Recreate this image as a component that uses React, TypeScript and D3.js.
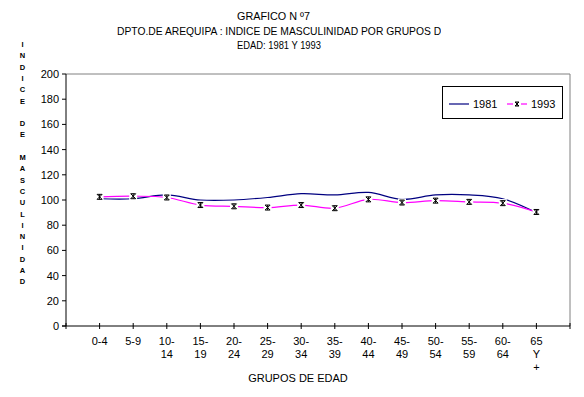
import React from 'react';
import * as d3 from 'd3';

const W = 584;
const H = 397;

// grupos de edad (etiquetas en varias líneas como en el original)
const ageGroups = ['0-4', '5-9', '10-14', '15-19', '20-24', '25-29', '30-34', '35-39', '40-44', '45-49', '50-54', '55-59', '60-64', '65 Y +'];
const ageLabelLines = [
  ['0-4'], ['5-9'], ['10-', '14'], ['15-', '19'], ['20-', '24'], ['25-', '29'], ['30-', '34'],
  ['35-', '39'], ['40-', '44'], ['45-', '49'], ['50-', '54'], ['55-', '59'], ['60-', '64'], ['65', 'Y', '+'],
];
const values1981 = [101, 101, 104, 100, 100, 102, 105, 104, 106, 100.5, 104, 104, 101, 90];
const values1993 = [102.5, 103, 102, 96, 95, 94, 96, 93.5, 100.5, 98, 99.5, 98.5, 97.5, 90.5];
const yTicks = [0, 20, 40, 60, 80, 100, 120, 140, 160, 180, 200];
const titleLines = ['GRAFICO N º7', 'DPTO.DE AREQUIPA : INDICE DE MASCULINIDAD POR GRUPOS DE', 'EDAD: 1981 Y 1993'];
const yTitle = 'INDICE DE MASCULINIDAD';

const plot = { l: 66, r: 570, t: 74, b: 326 };
const NAVY = '#000080';
const PINK = '#ff00ff';
const FONT = 'Arial, "Liberation Sans", sans-serif';

// marcador tipo estrella (x con barra vertical)
const starPath = (cx: number, cy: number, s = 2.5) =>
  `M${cx - s},${cy - s}L${cx + s},${cy + s}M${cx - s},${cy + s}L${cx + s},${cy - s}M${cx},${cy - s}L${cx},${cy + s}M${cx - s},${cy - s}L${cx + s},${cy - s}M${cx - s},${cy + s}L${cx + s},${cy + s}`;

const App = () => {
  const x = d3.scalePoint<string>().domain(ageGroups).range([plot.l, plot.r]).padding(1);
  const y = d3.scaleLinear().domain([0, 200]).range([plot.b, plot.t]);

  const line = d3
    .line<number>()
    .x((_, i) => x(ageGroups[i]) as number)
    .y((d) => y(d))
    .curve(d3.curveCatmullRom.alpha(0.5));

  const tickXs = [plot.l, ...ageGroups.map((g) => x(g) as number), plot.r];

  return (
    <svg width={W} height={H} style={{ position: 'absolute', left: 0, top: 0, background: '#fff' }} fontFamily={FONT}>
      <defs>
        <clipPath id="titleClip">
          <rect x={0} y={0} width={441} height={60} />
        </clipPath>
      </defs>
      <rect x={0} y={0} width={W} height={H} fill="#fff" />

      {/* título */}
      <text x={237} y={20} fontSize={11} textLength={73} lengthAdjust="spacingAndGlyphs">{titleLines[0]}</text>
      <text x={117} y={35} fontSize={11} textLength={331} lengthAdjust="spacingAndGlyphs" clipPath="url(#titleClip)">
        {titleLines[1]}
      </text>
      <text x={237} y={49} fontSize={11} textLength={84} lengthAdjust="spacingAndGlyphs">{titleLines[2]}</text>

      {/* título eje y, letras apiladas */}
      {yTitle.split('').map((ch, i) =>
        ch === ' ' ? null : (
          <text key={`yt-${i}`} x={22.5} y={44 + i * 11.3 + 3} fontSize={7.5} fontWeight="bold" textAnchor="middle">
            {ch}
          </text>
        )
      )}

      {/* marco */}
      <line x1={plot.l} x2={plot.r} y1={plot.t} y2={plot.t} stroke="#808080" />
      <line x1={plot.r} x2={plot.r} y1={plot.t} y2={plot.b} stroke="#808080" />

      {/* eje y */}
      <line x1={plot.l} x2={plot.l} y1={plot.t} y2={plot.b} stroke="#000" />
      {yTicks.map((t) => (
        <g key={`y-${t}`}>
          <line x1={plot.l - 4} x2={plot.l} y1={y(t)} y2={y(t)} stroke="#000" />
          <text x={59} y={y(t) + 4} fontSize={11} textAnchor="end">{t}</text>
        </g>
      ))}

      {/* eje x */}
      <line x1={plot.l - 4} x2={plot.r} y1={plot.b} y2={plot.b} stroke="#000" />
      {tickXs.map((tx, i) => (
        <line key={`xt-${i}`} x1={tx} x2={tx} y1={plot.b - 3} y2={plot.b + 3} stroke="#000" />
      ))}
      {ageGroups.map((g, i) => (
        <text key={`xl-${g}`} fontSize={11} textAnchor="middle">
          {ageLabelLines[i].map((ln, j) => (
            <tspan key={j} x={x(g)} y={345 + j * 13}>{ln}</tspan>
          ))}
        </text>
      ))}
      <text x={298} y={382} fontSize={11} textAnchor="middle">GRUPOS DE EDAD</text>

      {/* series */}
      <path d={line(values1981) || ''} fill="none" stroke={NAVY} strokeWidth={1.2} />
      <path d={line(values1993) || ''} fill="none" stroke={PINK} strokeWidth={1.2} />
      {values1993.map((v, i) => {
        const cx = x(ageGroups[i]) as number;
        const cy = y(v);
        return (
          <g key={`m-${i}`}>
            <rect x={cx - 4} y={cy - 4} width={8} height={8} fill="#fff" />
            <path d={starPath(cx, cy)} stroke="#000" strokeWidth={1} fill="none" />
          </g>
        );
      })}

      {/* leyenda */}
      <rect x={442.5} y={86.5} width={120} height={32} fill="#fff" stroke="#000" />
      <line x1={449} x2={469} y1={104} y2={104} stroke={NAVY} strokeWidth={1.2} />
      <text x={473} y={108} fontSize={11}>1981</text>
      <line x1={507} x2={527} y1={104} y2={104} stroke={PINK} strokeWidth={1.2} />
      <rect x={513} y={100} width={8} height={8} fill="#fff" />
      <path d={starPath(517, 104, 2)} stroke="#000" strokeWidth={1} fill="none" />
      <text x={531} y={108} fontSize={11}>1993</text>
    </svg>
  );
};

export default App;
